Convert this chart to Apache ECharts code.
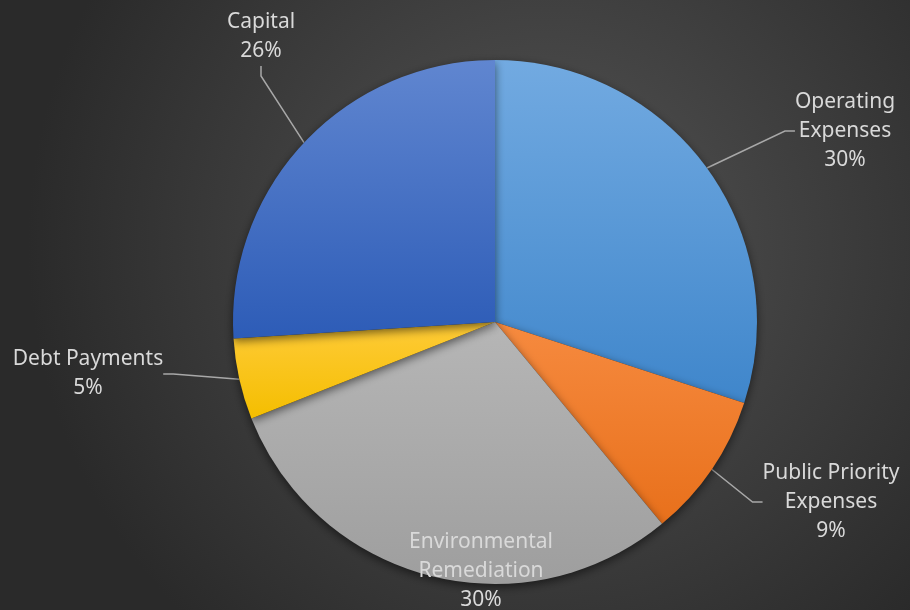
<!DOCTYPE html>
<html>
<head>
<meta charset="utf-8">
<script src="https://cdn.jsdelivr.net/npm/echarts@6/dist/echarts.min.js"></script>
<style>html,body{margin:0;padding:0;background:#333;}#chart{width:910px;height:610px;}</style>
</head>
<body>
<div id="chart"></div>
<script>
const categories = ["Operating Expenses", "Public Priority Expenses", "Environmental Remediation", "Debt Payments", "Capital"];
const labelTexts = ["Operating\nExpenses", "Public Priority\nExpenses", "Environmental\nRemediation", "Debt Payments", "Capital"];
const values = [30, 9, 30, 5, 26];
const topColors = ["#72aae1", "#f68a3f", "#b6b6b6", "#ffcb38", "#6086d0"];
const bottomColors = ["#3f86cb", "#e8701b", "#9e9e9e", "#f4be00", "#2d5cb7"];
const labelPos = [[845, 131], [831, 502], [481, 571], [88, 374], [261, 37]];

const chart = echarts.init(document.getElementById('chart'));
const data = categories.map((c, i) => ({
  name: c,
  value: values[i],
  itemStyle: {
    color: new echarts.graphic.LinearGradient(0, 0, 0, 1, [
      { offset: 0, color: topColors[i] },
      { offset: 1, color: bottomColors[i] }
    ])
  },
  labelLine: { show: i !== 2 }
}));

chart.setOption({
  backgroundColor: new echarts.graphic.RadialGradient(0.6, 0.4, 0.85, [
    { offset: 0, color: '#545454' },
    { offset: 1, color: '#2a2a2a' }
  ]),
  series: [{
    type: 'pie',
    center: [495, 322],
    radius: [0, 262],
    startAngle: 90,
    clockwise: true,
    percentPrecision: 0,
    animation: false,
    data: data,
    itemStyle: {
      shadowBlur: 10,
      shadowColor: 'rgba(0,0,0,0.55)',
      shadowOffsetY: 3,
      borderWidth: 0
    },
    label: {
      show: true,
      position: 'outside',
      formatter: p => labelTexts[p.dataIndex] + '\n' + p.percent + '%',
      color: '#d9d9d9',
      fontFamily: 'Noto Sans',
      fontSize: 21,
      lineHeight: 29,
      align: 'center'
    },
    labelLine: {
      show: true,
      length: 20,
      length2: 10,
      lineStyle: { color: '#a8a8a8', width: 1.5 }
    },
    labelLayout: function (params) {
      const p = labelPos[params.dataIndex];
      return { x: p[0], y: p[1], align: 'center', verticalAlign: 'middle' };
    }
  }]
});
</script>
</body>
</html>
